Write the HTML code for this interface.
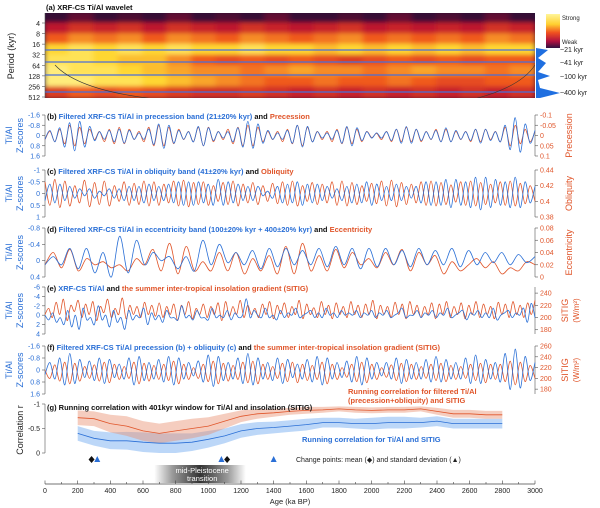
<!DOCTYPE html>
<html><head><meta charset="utf-8"><style>
body{margin:0;background:#fff}
svg{display:block;font-family:"Liberation Sans",sans-serif}
.t{font-size:7.5px;font-weight:bold}
.k{font-size:7px}
</style></head><body>
<svg id="c" width="600" height="508" viewBox="0 0 600 508" xmlns="http://www.w3.org/2000/svg">
<defs>
<filter id="bl" x="-5%" y="-5%" width="110%" height="110%"><feGaussianBlur stdDeviation="3 2"/></filter>
<linearGradient id="cb" x1="0" y1="0" x2="0" y2="1"><stop offset="0" stop-color="#fff59a"/><stop offset="0.3" stop-color="#ffd030"/><stop offset="0.55" stop-color="#f05020"/><stop offset="0.8" stop-color="#b01040"/><stop offset="1" stop-color="#301040"/></linearGradient>
<linearGradient id="mpt" x1="0" y1="0" x2="1" y2="0"><stop offset="0" stop-color="#fff"/><stop offset="0.2" stop-color="#999"/><stop offset="0.5" stop-color="#333"/><stop offset="0.8" stop-color="#999"/><stop offset="1" stop-color="#fff"/></linearGradient>
<clipPath id="wc"><rect x="45" y="13" width="490" height="85"/></clipPath>
</defs>
</svg>
<script>
// ---- data ----
const waveRows=["2-4","4-8","8-16","16-32","32-64","64-128","128-256","256-512"];
const wavePower=[
[0.05,0.15,0.05,0.1,0.05,0.15,0.05,0.1,0.05,0.15,0.05,0.05,0.1,0.05,0.15,0.05,0.1,0.05,0.15,0.05],
[0.35,0.45,0.4,0.45,0.35,0.45,0.4,0.35,0.45,0.4,0.35,0.4,0.45,0.35,0.4,0.35,0.4,0.35,0.45,0.4],
[0.6,0.7,0.65,0.7,0.6,0.7,0.65,0.6,0.7,0.65,0.6,0.65,0.7,0.6,0.65,0.6,0.65,0.6,0.7,0.65],
[0.85,0.9,0.85,0.9,0.85,0.9,0.85,0.85,0.9,0.85,0.85,0.8,0.85,0.8,0.85,0.8,0.85,0.8,0.85,0.85],
[0.9,0.9,0.85,0.8,0.8,0.7,0.6,0.55,0.6,0.55,0.6,0.55,0.5,0.55,0.6,0.55,0.6,0.55,0.6,0.6],
[0.95,0.9,0.9,0.85,0.8,0.75,0.7,0.7,0.65,0.7,0.75,0.7,0.7,0.65,0.7,0.75,0.7,0.7,0.65,0.7],
[0.95,0.95,0.9,0.9,0.85,0.8,0.75,0.7,0.65,0.6,0.6,0.65,0.6,0.6,0.65,0.6,0.55,0.55,0.6,0.6],
[0.5,0.6,0.55,0.6,0.55,0.5,0.45,0.45,0.5,0.45,0.4,0.45,0.4,0.45,0.4,0.45,0.4,0.45,0.4,0.45]];
const periodTicks=[4,8,16,32,64,128,256,512];
const ageTicks=[0,200,400,600,800,1000,1200,1400,1600,1800,2000,2200,2400,2600,2800,3000];
const bBlue=[0.3,-0.4,0.5,-0.6,0.9,-1.0,1.2,-1.1,0.9,-0.7,0.4,-0.3,0.3,-0.4,0.5,-0.5,0.6,-0.4,0.3,-0.2,0.3,-0.5,0.7,-0.9,1.0,-0.8,0.6,-0.4,0.3,-0.3,0.5,-0.7,0.8,-0.6,0.4,-0.3,0.2,-0.3,0.5,-0.6,0.9,-1.1,1.0,-0.9,0.6,-0.4,0.3,-0.2,0.3,-0.4,0.6,-0.8,0.9,-0.7,0.5,-0.3,0.2,-0.2,0.3,-0.4,0.6,-0.7,0.8,-0.6,0.4,-0.3,0.2,-0.2,0.2,-0.3,0.4,-0.5,0.6,-0.7,0.6,-0.5,0.4,-0.3,0.3,-0.4,0.5,-0.6,0.5,-0.4,0.3,-0.3,0.4,-0.5,0.6,-0.5,0.4,-0.3,0.5,-0.8,1.1,-1.4,1.3,-0.9,0.6,-0.4];
const bOrange=[0.02,-0.02,0.03,-0.03,0.04,-0.05,0.05,-0.04,0.04,-0.03,0.02,-0.02,0.03,-0.03,0.04,-0.04,0.04,-0.03,0.02,-0.02,0.03,-0.04,0.05,-0.05,0.05,-0.04,0.04,-0.03,0.02,-0.02,0.03,-0.04,0.05,-0.04,0.03,-0.02,0.02,-0.03,0.04,-0.04,0.05,-0.05,0.05,-0.04,0.03,-0.02,0.02,-0.02,0.03,-0.03,0.04,-0.05,0.05,-0.04,0.03,-0.02,0.02,-0.02,0.03,-0.03,0.04,-0.04,0.04,-0.03,0.03,-0.02,0.01,-0.01,0.02,-0.02,0.03,-0.03,0.03,-0.04,0.03,-0.03,0.03,-0.02,0.02,-0.03,0.03,-0.03,0.03,-0.02,0.02,-0.02,0.03,-0.03,0.03,-0.03,0.02,-0.02,0.03,-0.04,0.05,-0.05,0.04,-0.03,0.03,-0.02];
const cBlue=[0.3,-0.4,0.4,-0.4,0.3,-0.3,0.2,-0.2,0.1,-0.2,0.2,-0.1,0.1,-0.2,0.2,-0.2,0.3,-0.3,0.3,-0.3,0.4,-0.4,0.3,-0.3,0.3,-0.4,0.4,-0.5,0.5,-0.5,0.5,-0.5,0.4,-0.4,0.5,-0.6,0.5,-0.5,0.4,-0.4,0.3,-0.3,0.3,-0.3,0.1,-0.1,0.2,-0.3,0.4,-0.4,0.4,-0.5,0.5,-0.4,0.4,-0.4,0.3,-0.3,0.2,-0.2,0.3,-0.3,0.4,-0.4,0.4,-0.5,0.5,-0.4,0.3,-0.3,0.3,-0.4,0.3,-0.3,0.2,-0.3,0.4,-0.5,0.5,-0.5,0.5,-0.6,0.6,-0.6,0.5,-0.5,0.6,-0.7,0.7,-0.7,0.6,-0.6,0.5,-0.5,0.6,-0.7,0.6,-0.5,0.4,-0.3];
const cOrange=[0.425,0.395,0.428,0.392,0.426,0.394,0.42,0.398,0.427,0.393,0.424,0.396,0.426,0.394,0.42,0.4,0.425,0.395,0.423,0.396,0.426,0.394,0.425,0.395,0.422,0.398,0.426,0.394,0.427,0.393,0.424,0.396,0.425,0.395,0.42,0.4,0.424,0.396,0.426,0.394,0.422,0.398,0.424,0.396,0.42,0.4,0.423,0.397,0.425,0.395,0.426,0.394,0.42,0.4,0.424,0.396,0.422,0.398,0.425,0.395,0.426,0.394,0.424,0.396,0.42,0.4,0.423,0.397,0.426,0.394,0.427,0.393,0.424,0.396,0.422,0.398,0.425,0.395,0.426,0.394,0.424,0.396,0.421,0.399,0.425,0.395,0.426,0.394,0.424,0.396,0.422,0.398,0.425,0.395,0.426,0.394,0.423,0.397,0.42,0.4];
const dBlue=[0.1,-0.1,0.1,-0.3,0.2,-0.3,0.3,-0.2,0.4,-0.6,0.3,-0.5,0.1,-0.2,0.0,-0.1,0.2,-0.1,0.25,-0.5,0.1,-0.4,0.05,-0.2,0.1,-0.25,0.2,-0.3,0.15,-0.3,0.1,-0.25,0.1,-0.3,0.15,-0.35,0.1,-0.3,0.2,-0.3,0.15,-0.3,0.1,-0.25,0.15,-0.3,0.1,-0.25,0.1,-0.3,0.15,-0.25,0.1,-0.2,0.05,-0.2,0.1,-0.15,0.05,-0.1];
const dOrange=[0.02,0.04,0.015,0.045,0.01,0.03,0.02,0.025,0.015,0.02,0.01,0.03,0.02,0.045,0.01,0.055,0.005,0.05,0.01,0.025,0.01,0.04,0.01,0.04,0.005,0.03,0.01,0.035,0.005,0.05,0.005,0.055,0.01,0.035,0.01,0.045,0.015,0.04,0.02,0.03,0.015,0.04,0.02,0.045,0.01,0.04,0.02,0.035,0.005,0.025,0.01,0.02,0.03,0.015,0.025,0.005,0.015,0.01,0.025,0.02];
const eBlue=[0,1,-0.5,1.5,0.5,2,-1,2.5,0,3,-1.5,1,0.5,2,-2,1,0,2.5,-1,1.5,0.5,3,-1,1,0,0.5,-1.5,2,-0.5,1,0,1.5,-1,0.5,0.5,1,-2,0.5,0,1,-1,0.5,0.5,1,-1.5,0.5,0,0.5,-1,1,-0.5,0.5,0,-3.5,0.5,-1,0,0.5,-1.5,0.5,0,1,-1,0.5,-0.5,0,-1.5,0.5,0,-0.5,-1,0.5,-0.5,0.5,-1.5,0,-0.5,0.5,-1,0,-0.5,0,-1,0.5,-0.5,0,-1,0.5,-0.5,0,-1,0.5,0,-0.5,-1.5,0.5,0,0,-1,0.5,-0.5,0,-1,0.5,-0.5,0,-1.5,0.5,0,-0.5,-1,1,-0.5,0,-1,0.5,-0.5,0.5,-1.5,1,0,-0.5,-1,0.5,-0.5,0,-1.5,1.5,-2.5,0.5];
const eOrange=[205,215,200,225,205,230,195,220,210,228,200,222,205,226,195,218,208,230,200,215,205,232,198,220,205,218,200,225,205,220,202,224,200,218,205,222,195,220,205,226,198,215,205,222,200,218,205,224,195,226,202,218,205,228,200,220,205,215,200,222,205,226,198,220,206,224,200,218,205,228,198,222,205,216,200,226,205,220,198,224,205,218,200,226,205,220,200,222,205,228,198,220,205,218,200,225,205,222,198,226,205,220,200,218,205,224,198,222,205,226,200,218,205,224,198,220,205,226,200,222,205,218,198,225,205,222,200,226,205,220,200,224,205,228];
const fBlue=[0.3,-0.5,0.6,-0.8,1.0,-1.1,0.9,-0.7,0.5,-0.6,0.7,-0.8,0.9,-0.7,0.5,-0.4,0.6,-0.8,1.0,-0.9,0.7,-0.5,0.6,-0.7,0.8,-0.9,1.0,-0.8,0.6,-0.5,0.4,-0.6,0.8,-1.0,1.1,-0.9,0.7,-0.5,0.6,-0.8,0.9,-1.1,1.0,-0.8,0.6,-0.5,0.7,-0.8,0.9,-0.7,0.5,-0.4,0.6,-0.7,0.8,-0.9,1.0,-0.8,0.6,-0.5,0.5,-0.6,0.8,-0.9,1.0,-0.8,0.6,-0.5,0.4,-0.5,0.6,-0.8,0.9,-0.7,0.6,-0.5,0.6,-0.7,0.8,-0.9,0.8,-0.7,0.6,-0.5,0.6,-0.8,0.9,-1.0,0.9,-0.7,0.6,-0.5,0.8,-1.1,1.3,-1.4,1.2,-0.9,0.7,-0.5];
const fOrange=[215,200,225,195,230,190,228,195,222,200,225,195,230,192,226,198,222,200,230,190,228,195,224,198,226,196,232,190,226,198,220,200,226,194,232,190,228,195,224,198,230,192,232,190,226,198,222,200,228,194,230,192,226,196,224,198,230,190,226,198,220,202,226,194,230,192,226,198,220,202,225,196,228,194,226,198,222,200,226,196,228,194,224,198,222,200,226,196,228,192,226,198,226,194,232,188,230,194,224,200];
const gAges=[200,300,400,500,600,700,800,900,1000,1100,1200,1300,1400,1500,1600,1700,1800,1900,2000,2100,2200,2300,2400,2500,2600,2700,2800];
const gRed=[-0.72,-0.7,-0.6,-0.55,-0.45,-0.4,-0.45,-0.5,-0.55,-0.65,-0.75,-0.8,-0.82,-0.85,-0.87,-0.88,-0.9,-0.88,-0.87,-0.88,-0.88,-0.9,-0.85,-0.8,-0.8,-0.78,-0.78];
const gBlue=[-0.4,-0.3,-0.25,-0.25,-0.22,-0.2,-0.2,-0.22,-0.28,-0.35,-0.45,-0.5,-0.52,-0.55,-0.58,-0.62,-0.62,-0.6,-0.6,-0.62,-0.62,-0.62,-0.65,-0.6,-0.6,-0.6,-0.6];
const gRedErr=[0.15,0.15,0.18,0.2,0.2,0.2,0.2,0.2,0.18,0.15,0.12,0.1,0.08,0.07,0.07,0.06,0.05,0.06,0.06,0.06,0.06,0.05,0.07,0.08,0.08,0.08,0.08];
const gBlueErr=[0.15,0.15,0.17,0.18,0.2,0.2,0.2,0.18,0.17,0.15,0.14,0.13,0.12,0.12,0.12,0.1,0.1,0.1,0.12,0.12,0.12,0.1,0.1,0.1,0.1,0.1,0.1];
const meanCP=[285,1115];
const sdCP=[320,1080,1400];

// ---- drawing ----
const S=document.getElementById('c');const NS='http://www.w3.org/2000/svg';
function mk(tag,a,p){const e=document.createElementNS(NS,tag);for(const k in a)e.setAttribute(k,a[k]);(p||S).appendChild(e);return e;}
function tx(x,y,s,a,p){const e=mk('text',Object.assign({x:x,y:y},a),p);e.textContent=s;return e;}
const X0=45,X1=535;
const xA=ka=>X0+ka/3000*(X1-X0);
function lin(d0,d1,r0,r1){return v=>r0+(v-d0)/(d1-d0)*(r1-r0);}
function smooth(pts){let d='M'+pts[0][0].toFixed(1)+','+pts[0][1].toFixed(1);for(let i=0;i<pts.length-1;i++){const p0=pts[Math.max(0,i-1)],p1=pts[i],p2=pts[i+1],p3=pts[Math.min(pts.length-1,i+2)];const c1=[p1[0]+(p2[0]-p0[0])/6,p1[1]+(p2[1]-p0[1])/6],c2=[p2[0]-(p3[0]-p1[0])/6,p2[1]-(p3[1]-p1[1])/6];d+='C'+c1[0].toFixed(1)+','+c1[1].toFixed(1)+' '+c2[0].toFixed(1)+','+c2[1].toFixed(1)+' '+p2[0].toFixed(1)+','+p2[1].toFixed(1);}return d;}
const BLUE='#2a6fd6',OR='#e0552a';

// wavelet
const wg=mk('g',{'clip-path':'url(#wc)'});


mk('rect',{x:45,y:13,width:490,height:85,fill:'#200a36'},wg);
function pc(v){const st=[[0,[32,10,54]],[0.35,[190,20,45]],[0.6,[240,90,30]],[0.85,[255,215,50]],[1,[255,247,160]]];for(let i=1;i<st.length;i++){if(v<=st[i][0]){const t=(v-st[i-1][0])/(st[i][0]-st[i-1][0]);const c=st[i-1][1].map((a,j)=>Math.round(a+(st[i][1][j]-a)*t));return 'rgb('+c+')';}}return 'rgb(255,247,160)';}
const hg=mk('g',{filter:'url(#bl)'},wg);
const rowH=85/waveRows.length,colW=490/wavePower[0].length;
wavePower.forEach((row,r)=>row.forEach((v,c)=>{const e=mk('rect',{x:45+c*colW-1,y:13+r*rowH-1,width:colW+2,height:rowH+2,fill:pc(v)},hg);

}));
[50,62,75,92].forEach(y=>mk('line',{x1:45,x2:535,y1:y,y2:y,stroke:'#4a6fd8','stroke-width':1.2},wg));
mk('path',{d:'M55,65 Q80,92 165,100',fill:'none',stroke:'#333','stroke-width':0.6},wg);
mk('path',{d:'M535,65 Q520,88 470,100',fill:'none',stroke:'#333','stroke-width':0.6},wg);
tx(46,10,'(a) XRF-CS Ti/Al wavelet',{class:'t',fill:'#111',});
mk('line',{x1:45,x2:45,y1:13,y2:98,stroke:'#555','stroke-width':0.6});
const py=lin(2,9,23,97);
periodTicks.forEach((p,i)=>{const y=py(Math.log2(p));mk('line',{x1:42,x2:45,y1:y,y2:y,stroke:'#555','stroke-width':0.6});const t=tx(40,y+3,String(p),{class:'k','text-anchor':'end',fill:'#222'});

});
tx(0,0,'Period (kyr)',{'font-size':9,fill:'#222',transform:'translate(14,56) rotate(-90)','text-anchor':'middle',});
mk('rect',{x:546,y:14,width:14,height:34,fill:'url(#cb)',});
tx(562,20,'Strong',{'font-size':6,fill:'#222'});tx(562,44,'Weak',{'font-size':6,fill:'#222'});
mk('path',{d:'M536,48 L536,98 L540,98 L560,93 L540,88 L538,80 L550,76 L538,72 L546,63 L538,58 L548,50 L536,48Z',fill:'#1f6fe0',});
[['~21 kyr',52],['~41 kyr',65],['~100 kyr',79],['~400 kyr',95]].forEach(a=>tx(560,a[1],a[0],{'font-size':7,fill:'#222'}));

// generic panel
function panel(o){
  const g=mk('g',{});
  
  
  const yl=lin(o.ld[0],o.ld[1],o.y0,o.y1),yr=lin(o.rd[0],o.rd[1],o.y0,o.y1);
  mk('line',{x1:X0,x2:X0,y1:o.y0,y2:o.y1,stroke:'#555','stroke-width':0.6},g);
  mk('line',{x1:X1,x2:X1,y1:o.y0,y2:o.y1,stroke:'#555','stroke-width':0.6},g);
  o.lt.forEach(v=>{const y=yl(v);mk('line',{x1:42,x2:45,y1:y,y2:y,stroke:'#555','stroke-width':0.6},g);tx(40,y+2.5,String(v),{class:'k','text-anchor':'end',fill:BLUE},g);});
  o.rt.forEach(v=>{const y=yr(v);mk('line',{x1:535,x2:538,y1:y,y2:y,stroke:'#555','stroke-width':0.6},g);tx(540,y+2.5,String(v),{class:'k',fill:OR},g);});
  function line(arr,ys,col,w,nm){const n=arr.length;const pts=arr.map((v,i)=>[xA(i*3000/(n-1)),ys(v)]);const p=mk('path',{d:smooth(pts),fill:'none',stroke:col,'stroke-width':w},g);
  
  }
  line(o.r,yr,OR,0.8,o.name+'-orbital-line');
  line(o.l,yl,BLUE,0.8,o.name+'-tial-line');
  const mid=(o.y0+o.y1)/2;
  tx(0,0,'Ti/Al',{'font-size':9,fill:BLUE,transform:`translate(12,${mid}) rotate(-90)`,'text-anchor':'middle'},g);
  tx(0,0,'Z-scores',{'font-size':9,fill:BLUE,transform:`translate(23,${mid}) rotate(-90)`,'text-anchor':'middle'},g);
  tx(0,0,o.rl,{'font-size':9,fill:OR,transform:`translate(${o.rlx||568},${mid}) rotate(-90)`,'text-anchor':'middle'},g);
  if(o.rl2)tx(0,0,o.rl2,{'font-size':8,fill:OR,transform:`translate(579,${mid}) rotate(-90)`,'text-anchor':'middle'},g);
  const t=tx(47,o.y0+4,'',{class:'t'},g);
  o.title.forEach(s=>{const sp=mk('tspan',{fill:s[1]},t);sp.textContent=s[0];});
}
panel({name:'panel-b',y0:115,y1:156,ld:[-1.6,1.6],rd:[-0.1,0.1],lt:[-1.6,-0.8,0,0.8,1.6],rt:[-0.1,-0.05,0,0.05,0.1],l:bBlue,r:bOrange,rl:'Precession',rlx:572,
 title:[['(b) ','#111'],['Filtered XRF-CS Ti/Al in precession band (21±20% kyr)',BLUE],[' and ','#111'],['Precession',OR]]});
panel({name:'panel-c',y0:170,y1:217,ld:[-1,1],rd:[0.44,0.38],lt:[-1,-0.5,0,0.5,1],rt:[0.44,0.42,0.4,0.38],l:cBlue,r:cOrange,rl:'Obliquity',rlx:572,
 title:[['(c) ','#111'],['Filtered XRF-CS Ti/Al in obliquity band (41±20% kyr)',BLUE],[' and ','#111'],['Obliquity',OR]]});
panel({name:'panel-d',y0:228,y1:277,ld:[-0.8,0.4],rd:[0.08,0],lt:[-0.8,-0.4,0,0.4],rt:[0.08,0.06,0.04,0.02,0],l:dBlue,r:dOrange,rl:'Eccentricity',rlx:572,
 title:[['(d) ','#111'],['Filtered XRF-CS Ti/Al in eccentricity band (100±20% kyr + 400±20% kyr)',BLUE],[' and ','#111'],['Eccentricity',OR]]});
panel({name:'panel-e',y0:287,y1:334,ld:[-6,4],rd:[250,173],lt:[-6,-4,-2,0,2,4],rt:[240,220,200,180],l:eBlue,r:eOrange,rl:'SITIG',rlx:568,rl2:'(W/m²)',
 title:[['(e) ','#111'],['XRF-CS Ti/Al',BLUE],[' and ','#111'],['the summer inter-tropical insolation gradient (SITIG)',OR]]});
panel({name:'panel-f',y0:346,y1:394,ld:[-1.6,1.6],rd:[260,171],lt:[-1.6,-0.8,0,0.8,1.6],rt:[260,240,220,200,180],l:fBlue,r:fOrange,rl:'SITIG',rlx:568,rl2:'(W/m²)',
 title:[['(f) ','#111'],['Filtered XRF-CS Ti/Al precession (b) + obliquity (c)',BLUE],['  and ','#111'],['the summer inter-tropical insolation gradient (SITIG)',OR]]});

// panel g
const gg=mk('g',{});


const yg=lin(-1,0,404,453);
mk('line',{x1:X0,x2:X0,y1:404,y2:453,stroke:'#555','stroke-width':0.6},gg);
[-1,-0.5,0].forEach(v=>{const y=yg(v);mk('line',{x1:42,x2:45,y1:y,y2:y,stroke:'#555','stroke-width':0.6},gg);tx(40,y+2.5,String(v),{class:'k','text-anchor':'end',fill:'#222'},gg);});
tx(0,0,'Correlation r',{'font-size':9,fill:'#222',transform:'translate(23,430) rotate(-90)','text-anchor':'middle'},gg);
function band(m,e,col,nm){const up=gAges.map((a,i)=>xA(a).toFixed(1)+','+yg(m[i]-e[i]).toFixed(1));const dn=gAges.map((a,i)=>xA(a).toFixed(1)+','+yg(Math.min(0,m[i]+e[i])).toFixed(1)).reverse();const p=mk('polygon',{points:up.concat(dn).join(' '),fill:col,opacity:0.45},gg);

}
function gl(m,col,nm){const p=mk('polyline',{points:gAges.map((a,i)=>xA(a).toFixed(1)+','+yg(m[i]).toFixed(1)).join(' '),fill:'none',stroke:col,'stroke-width':0.8},gg);

}
band(gBlue,gBlueErr,'#6aa6f0','blue-band');band(gRed,gRedErr,'#e89070','red-band');
gl(gRed,OR,'red-corr-line');gl(gBlue,BLUE,'blue-corr-line');
tx(47,410,'(g) Running correlation with 401kyr window for Ti/Al and insolation (SITIG)',{class:'t',fill:'#111'},gg);
tx(348,394,'Running correlation for filtered Ti/Al',{class:'t',fill:OR},gg);
tx(348,403,'(precession+obliquity) and SITIG',{class:'t',fill:OR},gg);
tx(302,442,'Running correlation for Ti/Al and SITIG',{class:'t',fill:BLUE},gg);
meanCP.forEach(a=>{const x=xA(a);const e=mk('path',{d:`M${x},456 l3,3.5 l-3,3.5 l-3,-3.5z`,fill:'#111'},gg);

});
sdCP.forEach(a=>{const x=xA(a);const e=mk('path',{d:`M${x},456 l3,6 l-6,0z`,fill:BLUE},gg);

});
tx(296,462,'Change points: mean (◆) and standard deviation (▲)',{'font-size':7,fill:'#222'},gg);
mk('rect',{x:xA(700)-5,y:465,width:xA(1230)-xA(700)+5,height:18,fill:'url(#mpt)',});
tx(xA(950)+2,473,'mid-Pleistocene',{'font-size':7.5,fill:'#fff','text-anchor':'middle'});
tx(xA(950)+2,481,'transition',{'font-size':7.5,fill:'#fff','text-anchor':'middle'});

// x axis
mk('line',{x1:X0,x2:X1,y1:484,y2:484,stroke:'#444','stroke-width':0.7,});
for(let a=0;a<=3000;a+=100){const x=xA(a);mk('line',{x1:x,x2:x,y1:484,y2:a%200?482:480.5,stroke:'#444','stroke-width':0.6});}
ageTicks.forEach(a=>{const t=tx(xA(a),493,String(a),{class:'k','text-anchor':'middle',fill:'#222'});

});
tx(290,504,'Age (ka BP)',{'font-size':7.5,fill:'#222','text-anchor':'middle',});
</script>
</body></html>
